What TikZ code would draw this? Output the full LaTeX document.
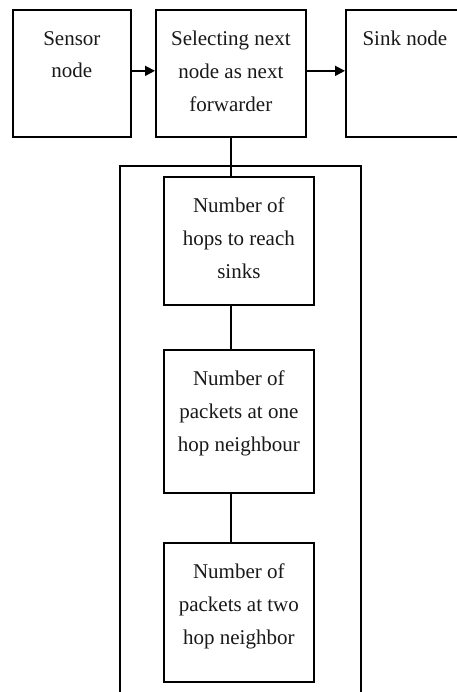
\documentclass[tikz,border=0pt]{standalone}
\usepackage{fontspec}
\setmainfont{Liberation Serif}
\usetikzlibrary{arrows.meta}
\begin{document}
\begin{tikzpicture}[x=1pt,y=-1pt,
  box/.style={draw, line width=1.7pt, inner sep=0pt, anchor=north west},
  txt/.style={font=\fontsize{21}{32.7}\selectfont, align=center, inner sep=0pt, anchor=north, text=black!90},
  link/.style={line width=1.7pt},
  arr/.style={line width=1.7pt, -{Triangle[length=10pt,width=10pt]}}]
\useasboundingbox (0,0) rectangle (456,692);
\fill[white] (0,0) rectangle (456,692);
% top row
\node[box, minimum width=118pt, minimum height=127pt] (sensor) at (12,9) {};
\node[box, minimum width=150pt, minimum height=127pt] (select) at (155,9) {};
\node[box, minimum width=118pt, minimum height=127pt] (sink) at (345,9) {};
\node[txt] (sensortxt) at ([yshift=-22pt]sensor.north) {Sensor\\node};
\node[txt] (selecttxt) at ([yshift=-22pt]select.north) {Selecting next\\node as next\\forwarder};
\node[txt] (sinktxt) at ([yshift=-22pt]sink.north) {Sink node};
% frame and criteria
\node[box, minimum width=241pt, minimum height=560pt] (frame) at (119,165) {};
\node[box, minimum width=150pt, minimum height=128pt] (hops) at (163,176) {};
\node[box, minimum width=150pt, minimum height=143pt] (one) at (163,349) {};
\node[box, minimum width=150pt, minimum height=139pt] (two) at (163,542) {};
\node[txt] (hopstxt) at ([yshift=-22pt]hops.north) {Number of\\hops to reach\\sinks};
\node[txt] (onetxt) at ([yshift=-22pt]one.north) {Number of\\packets at one\\hop neighbour};
\node[txt] (twotxt) at ([yshift=-22pt]two.north) {Number of\\packets at two\\hop neighbor};
% connectors
\draw[arr] ([yshift=2.5pt]sensor.east) -- ([yshift=2.5pt]select.west);
\draw[arr] ([yshift=2.5pt]select.east) -- ([yshift=2.5pt]sink.west);
\draw[link] (select.south) -- (select.south |- hops.north);
\draw[link] (select.south |- hops.south) -- (select.south |- one.north);
\draw[link] (select.south |- one.south) -- (select.south |- two.north);
\end{tikzpicture}
\end{document}
